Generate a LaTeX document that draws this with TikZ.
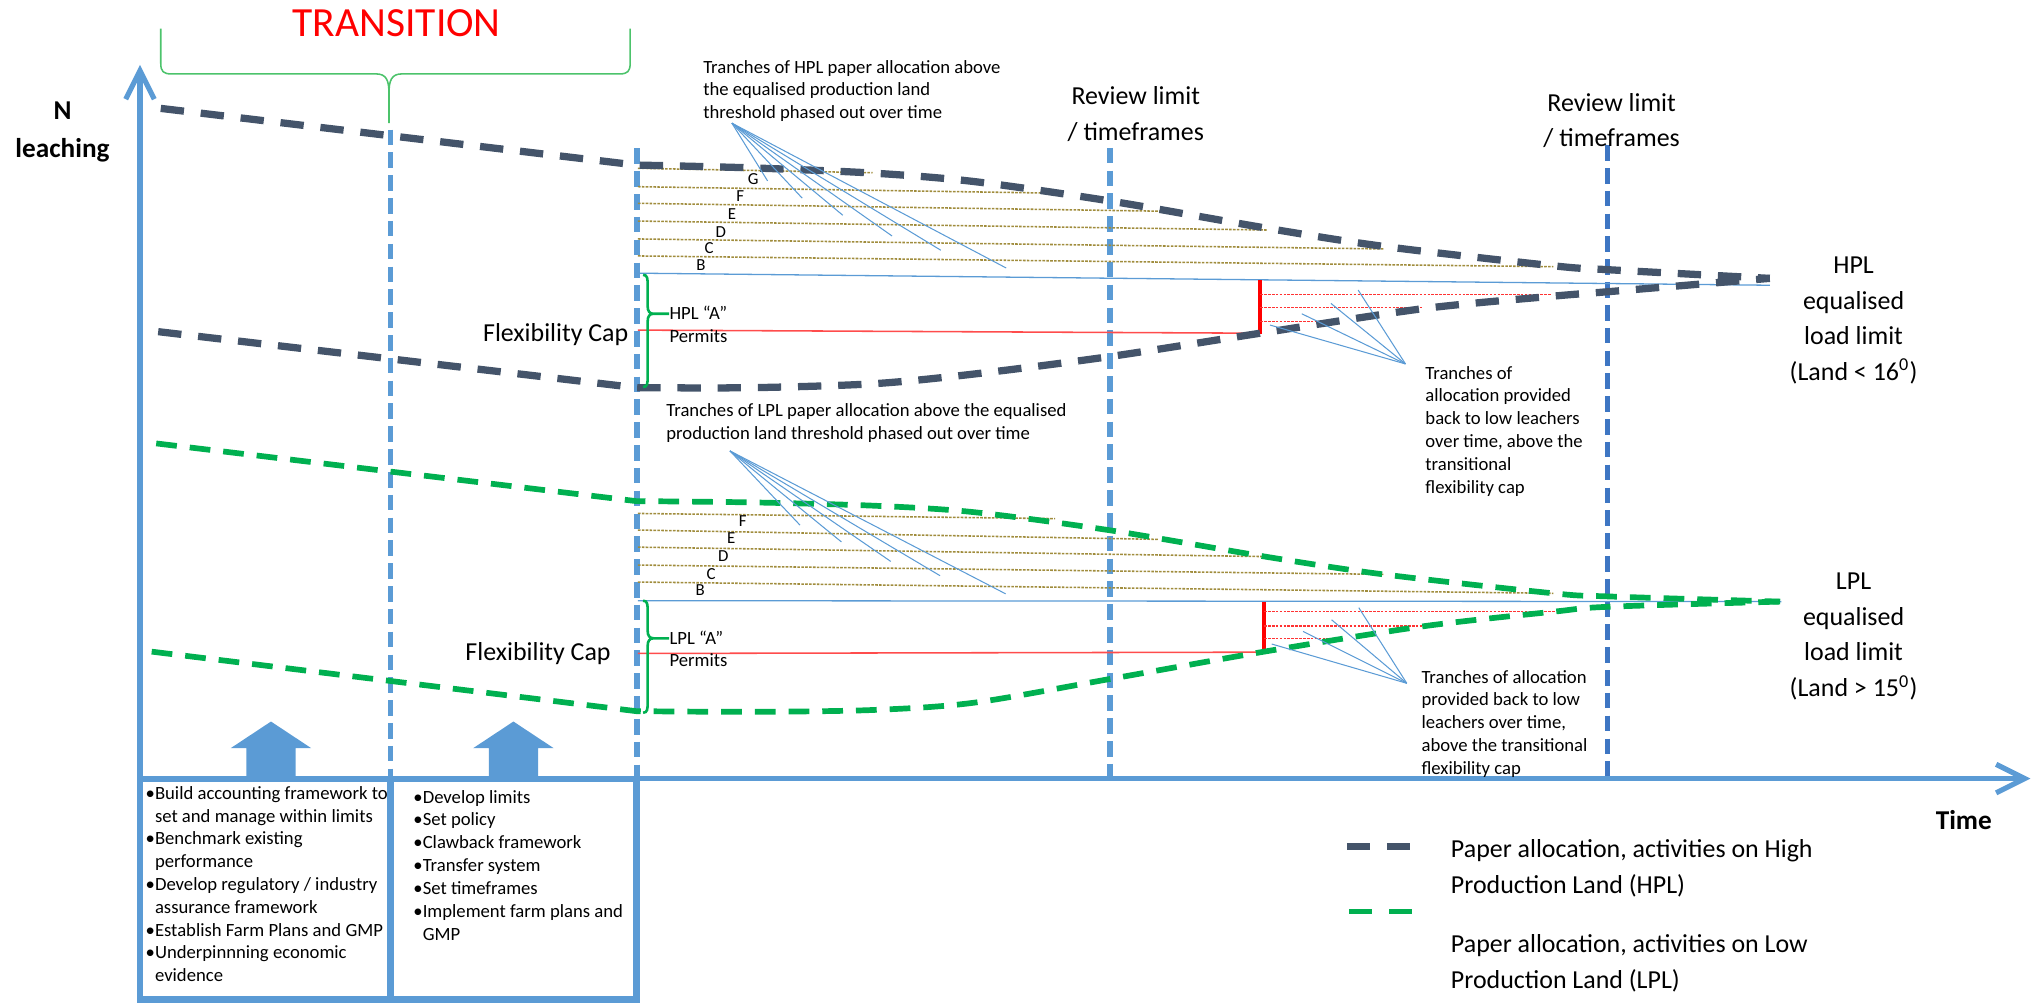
\documentclass[tikz,border=0pt]{standalone}
\usepackage{fontspec}
\setmainfont{Carlito}
\usetikzlibrary{arrows.meta}
\definecolor{axisblue}{HTML}{5B9BD5}
\definecolor{reviewblue}{HTML}{3E76C3}
\definecolor{hplgrey}{HTML}{44546A}
\definecolor{lplgreen}{HTML}{00B050}
\definecolor{tranchegold}{HTML}{A08C3C}
\definecolor{bracegreen}{HTML}{4CC36B}
\begin{document}
\begin{tikzpicture}[x=0.5pt,y=-0.5pt,
    axis/.style={axisblue,line width=2pt,-{Straight Barb[length=11pt,width=11pt]}},
    vdash/.style={axisblue,line width=2.1pt,dash pattern=on 6pt off 2.8pt},
    hplline/.style={hplgrey,line width=2.8pt,dash pattern=on 9pt off 6.5pt},
    lplline/.style={lplgreen,line width=2.2pt,dash pattern=on 8pt off 5pt},
    tranche/.style={tranchegold,line width=0.6pt,dash pattern=on 1pt off 0.5pt},
    handback/.style={red!80,line width=0.6pt,dash pattern=on 1pt off 0.5pt},
    permitline/.style={red!70,line width=0.6pt},
    capbar/.style={red,line width=1.5pt},
    equalline/.style={axisblue,line width=0.5pt},
    pointer/.style={axisblue,line width=0.4pt},
    flexbrace/.style={lplgreen,line width=1pt},
    bigtext/.style={font=\fontsize{10}{13.7}\selectfont,align=center,inner sep=0pt},
    smalltext/.style={font=\fontsize{7.2}{8.8}\selectfont,align=left,inner sep=0pt,anchor=north west},
    tranchelabel/.style={font=\fontsize{6.5}{7}\selectfont,inner sep=0pt},
    boxline/.style={axisblue,line width=2.5pt},
    blockarrow/.style={fill=axisblue}]
\useasboundingbox (0,0) rectangle (1568,775);

% guide lines
\draw[vdash] (301.3,100) -- (301.3,600.5);
\draw[vdash] (491.3,114.5) -- (491.3,600.5);
\draw[vdash] (856,114) -- (856,600.5);
\draw[vdash,reviewblue] (1240,112) -- (1240,600.5);

% axes
\draw[axis] (108,773) -- (108,50);
\draw[axis] (108,600.5) -- (1566,600.5);
\node[font=\bfseries\fontsize{10.5}{14.8}\selectfont,align=center,inner sep=0pt] (nleach) at (48.2,102) {N\\leaching};
\node[font=\bfseries\fontsize{10.5}{13}\selectfont,inner sep=0pt] (timelabel) at (1514.6,632.5) {Time};

% transition
\node[text=red,font=\fontsize{16}{19}\selectfont,inner sep=0pt] (transition) at (306,18) {TRANSITION};
\draw[bracegreen,line width=0.6pt] (124,22) -- (124,49) .. controls (124,55) and (126,57) .. (132,57) -- (290,57)
  .. controls (298,57) and (300,62) .. (300,72) -- (300,95) -- (300,72) .. controls (300,62) and (302,57) .. (310,57)
  -- (478,57) .. controls (484,57) and (486,55) .. (486,49) -- (486,22);

% tranches above the equalised line
\foreach \ya/\xb/\yb/\lab/\lx/\ly in {129.8/673/133.2/G/581/138, 144/815/149/F/571/151,
    156.8/902/163/E/564.5/165, 170.5/977/177.4/D/556/179, 184.3/1067/192/C/547/191, 197.4/1198/205.7/B/540.6/204.5}{
  \draw[tranche] (492,\ya) -- (\xb,\yb);
  \node[tranchelabel] at (\lx,\ly) {\lab};
}
\foreach \ya/\xb/\yb/\lab/\lx/\ly in {396/813.7/400/F/572.8/401.8, 408.8/893/416/E/564/415,
    422/977/429.3/D/557.8/429, 435.8/1067/443/C/548.4/442.7, 448.9/1198/457.6/B/540/455}{
  \draw[tranche] (492,\ya) -- (\xb,\yb);
  \node[tranchelabel] at (\lx,\ly) {\lab};
}

% equalised lines and permits
\draw[equalline] (492,210.7) -- (1365,220);
\draw[equalline] (492,463.3) -- (1374,464);
\draw[permitline] (492,254.6) -- (972,257);
\draw[capbar] (972,216) -- (972,257.5);
\foreach \ry/\rx in {227/1197, 237.3/1097.6, 248/1027}
  \draw[handback] (972,\ry) -- (\rx,\ry);
\draw[permitline] (492,504) -- (975,503);
\draw[capbar] (975,464) -- (975,503);
\foreach \ry/\rx in {471.7/1199, 482.8/1098, 492.6/1028}
  \draw[handback] (975,\ry) -- (\rx,\ry);

% paper allocation curves
\draw[hplline] (124,83.6) -- plot[smooth,tension=0.5] coordinates {(490.7,127.3) (580,129.5) (673,133.5) (751,140)
  (856,155) (977,176) (1067,190) (1198,205) (1240,208) (1365,214.7)};
\draw[hplline] (122,255.8) -- plot[smooth,tension=0.5] coordinates {(490.7,299) (580,299) (673,296) (751,288.5)
  (856,275) (972,257) (1098,238) (1197,228.5) (1240,225) (1365,214.7)};
\draw[lplline] (120.5,342) -- plot[smooth,tension=0.5] coordinates {(490.7,386.5) (580,387.5) (673,390) (751,395)
  (856,409) (977,429.5) (1067,443) (1198,457.6) (1240,460) (1373,464)};
\draw[lplline] (117,502.6) -- plot[smooth,tension=0.5] coordinates {(490.7,548.5) (580,549) (673,547.6) (751,542)
  (856,523.7) (975,502.6) (1098,483) (1199,471.7) (1240,468) (1373,464)};

% flexibility caps
\foreach \ty/\my/\by in {212/242/298.5, 463.3/492.3/549.7}
  \draw[flexbrace] (496,\ty) .. controls (499.5,\ty) and (499.5,{\ty+3}) .. (499.5,{\ty+8}) -- (499.5,{\my-6})
    .. controls (499.5,{\my-2}) and (501,\my) .. (504,\my) -- (516,\my)
    (504,\my) .. controls (501,\my) and (499.5,{\my+2}) .. (499.5,{\my+6}) -- (499.5,{\by-8})
    .. controls (499.5,{\by-3}) and (499.5,\by) .. (496,\by);
\node[bigtext] (hplflex) at (428.6,258.4) {Flexibility Cap};
\node[bigtext] (lplflex) at (415,504) {Flexibility Cap};
\node[smalltext] (hplA) at (516,236) {HPL “A”\\Permits};
\node[smalltext] (lplA) at (516,486) {LPL “A”\\Permits};

% callouts
\node[smalltext] (hpltext) at (542,46) {Tranches of HPL paper allocation above\\the equalised production land\\threshold phased out over time};
\coordinate (hpltip) at (564.5,95);
\foreach \px/\py in {592/139.5, 618.7/152.8, 650/166, 688/182, 725.6/193, 776/206.7}
  \draw[pointer] (hpltip) -- (\px,\py);
\node[smalltext] (lpltext) at (513.6,311) {Tranches of LPL paper allocation above the equalised\\production land threshold phased out over time};
\coordinate (lpltip) at (563,347.8);
\foreach \px/\py in {617/405, 649/418, 687/433, 725/444, 775.6/458}
  \draw[pointer] (lpltip) -- (\px,\py);
\node[smalltext] (hplback) at (1099,282) {Tranches of\\allocation provided\\back to low leachers\\over time, above the\\transitional\\flexibility cap};
\coordinate (hplbacktip) at (1084,280.7);
\foreach \px/\py in {1047.5/223.7, 1026.5/234, 1004/242, 979.5/250.7}
  \draw[pointer] (hplbacktip) -- (\px,\py);
\node[smalltext] (lplback) at (1096,516.5) {Tranches of allocation\\provided back to low\\leachers over time,\\above the transitional\\flexibility cap};
\coordinate (lplbacktip) at (1085,527);
\foreach \px/\py in {1048/468.7, 1027/478, 1005/487, 980.8/496.7}
  \draw[pointer] (lplbacktip) -- (\px,\py);

% review limits and load limits
\node[bigtext] (review1) at (876,88) {Review limit\\/ timeframes};
\node[bigtext] (review2) at (1243,93) {Review limit\\/ timeframes};
\node[bigtext] (hpllimit) at (1429.6,247) {HPL\\equalised\\load limit\\(Land < 16\textsuperscript{0})};
\node[bigtext] (lpllimit) at (1429.6,491) {LPL\\equalised\\load limit\\(Land > 15\textsuperscript{0})};

% transition work boxes
\foreach \cx in {209,396}
  \fill[blockarrow] ({\cx-19},601) -- ({\cx-19},577) -- ({\cx-31},577) -- (\cx,556.5) -- ({\cx+31},577)
    -- ({\cx+19},577) -- ({\cx+19},601) -- cycle;
\draw[boxline] (108,601) rectangle (301,771);
\draw[boxline] (301,601) rectangle (491,771);
\node[smalltext] (prepbox) at (112,606) {•Build accounting framework to\\\hphantom{•}set and manage within limits\\•Benchmark existing\\\hphantom{•}performance\\•Develop regulatory / industry\\\hphantom{•}assurance framework\\•Establish Farm Plans and GMP\\•Underpinnning economic\\\hphantom{•}evidence};
\node[smalltext] (implbox) at (318.5,609) {•Develop limits\\•Set policy\\•Clawback framework\\•Transfer system\\•Set timeframes\\•Implement farm plans and\\\hphantom{•}GMP};

% legend
\draw[hplline] (1038.7,653) -- (1090,653);
\node[bigtext,font=\fontsize{10}{14.1}\selectfont,align=left,anchor=west] (hplkey) at (1118.7,669.7) {Paper allocation, activities on High\\Production Land (HPL)};
\draw[lplline,dash pattern=on 9pt off 6.5pt] (1040.3,703) -- (1091,703);
\node[bigtext,font=\fontsize{10}{14.1}\selectfont,align=left,anchor=west] (lplkey) at (1118.7,743) {Paper allocation, activities on Low\\Production Land (LPL)};
\end{tikzpicture}
\end{document}
